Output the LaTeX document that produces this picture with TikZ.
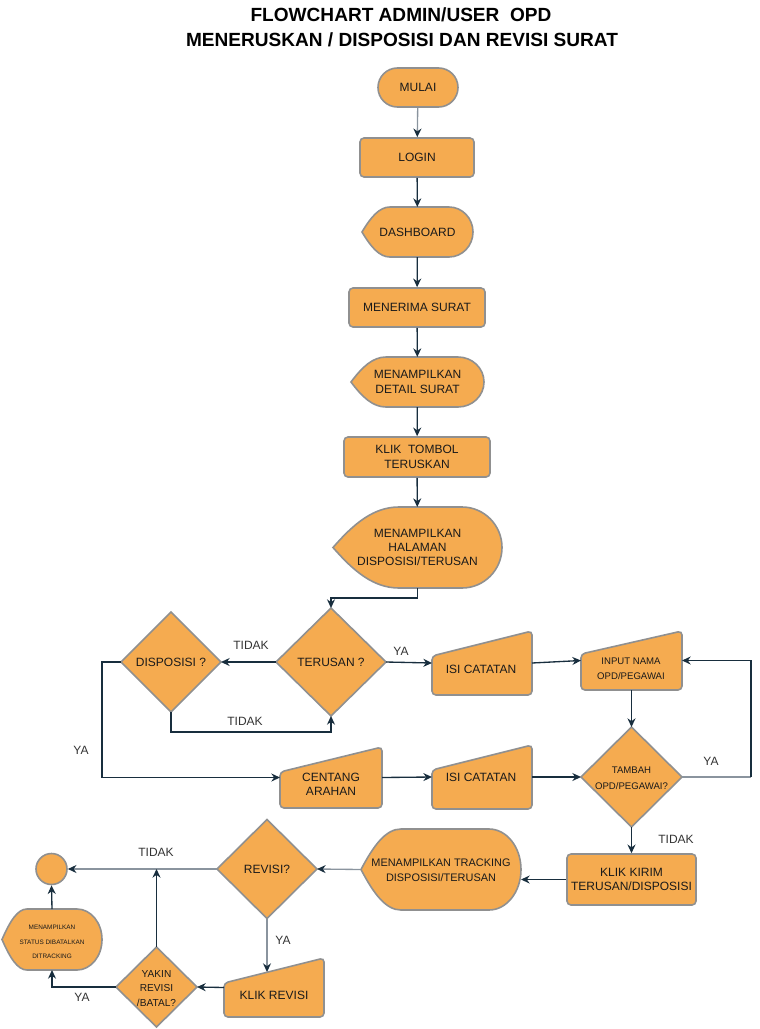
\documentclass[tikz,border=0pt]{standalone}
\usepackage{fontspec}
\setmainfont{Liberation Sans}
\usetikzlibrary{arrows.meta,calc}
\definecolor{orng}{HTML}{F5AB50}
\definecolor{strk}{HTML}{909090}
\definecolor{edgec}{HTML}{182E3E}
\definecolor{edgeg}{HTML}{8A949E}
\definecolor{txtc}{HTML}{1A1A1A}
\definecolor{lblc}{HTML}{333333}
\newcommand\ffnorm{\fontsize{9}{10.8}\selectfont}
\newcommand\ffsmall{\fontsize{7.2}{11.3}\selectfont}
\newcommand\fftamb{\fontsize{7.2}{12}\selectfont}
\newcommand\fftrack{\fontsize{8.2}{11}\selectfont}
\newcommand\ffyakin{\fontsize{7.6}{10.9}\selectfont}
\newcommand\fftiny{\fontsize{4.8}{10.9}\selectfont}
\newcommand\dispshape[6]{%
 \pgfmathsetmacro\dYm{(#2+#4)/2}%
 \pgfmathsetmacro\dH{#4-#2}%
 \pgfmathsetmacro\dXa{#1+#5}%
 \pgfmathsetmacro\dXr{#3-#6}%
 \pgfmathsetmacro\dCa{#1+0.32*#5}%
 \pgfmathsetmacro\dCb{#1+0.62*#5}%
 \pgfmathsetmacro\dDy{0.2*\dH}%
 \pgfmathsetmacro\dKa{\dXr+0.5523*#6}%
 \pgfmathsetmacro\dKb{0.5523*\dH/2}%
 \draw[box] (#1,\dYm) .. controls (\dCa,{#2+\dDy}) and (\dCb,#2) .. (\dXa,#2) -- (\dXr,#2) .. controls (\dKa,#2) and (#3,{\dYm-\dKb}) .. (#3,\dYm) .. controls (#3,{\dYm+\dKb}) and (\dKa,#4) .. (\dXr,#4) -- (\dXa,#4) .. controls (\dCb,#4) and (\dCa,{#4-\dDy}) .. cycle;
}
\newcommand\manshape[5]{\draw[box, rounded corners=3pt] (#1,{#2+#5}) -- (#3,#2) -- (#3,#4) -- (#1,#4) -- cycle;}
\newcommand\diashape[4]{\draw[box] ({#1-#3/2},#2) -- (#1,{#2-#4/2}) -- ({#1+#3/2},#2) -- (#1,{#2+#4/2}) -- cycle;}
\tikzset{
 box/.style={fill=orng, draw=strk, line width=1.2pt},
 sz/.style 2 args={minimum width=#1*0.75pt, minimum height=#2*0.75pt},
 rbox/.style={box, rounded corners=3pt, inner sep=0pt, align=center, font=\ffnorm, text=txtc},
 hit/.style={inner sep=0pt, outer sep=0pt, align=center, font=\ffnorm, text=txtc},
 txt/.style={inner sep=0pt, align=center, font=\ffnorm, text=txtc},
 lbl/.style={inner sep=0pt, font=\ffnorm, text=lblc},
 edge/.style={draw=edgec, line width=1pt, -{Stealth[length=6.5pt,width=6pt]}},
 gedge/.style={draw=edgeg, line width=1pt, -{Stealth[length=6.5pt,width=6pt,color=edgec]}},
}
\begin{document}
\begin{tikzpicture}[x=0.75pt,y=-0.75pt]
\useasboundingbox (0,0) rectangle (760,1029);
% title
\node[inner sep=0pt, font=\bfseries\fontsize{14.3}{17}\selectfont, text=black] (t1) at (401,15) {FLOWCHART ADMIN/USER\ \ OPD};
\node[inner sep=0pt, font=\bfseries\fontsize{14.3}{17}\selectfont, text=black] (t2) at (402,40) {MENERUSKAN / DISPOSISI DAN REVISI SURAT};
% main column
\node[rbox, rounded corners=14.6pt, sz={80}{39}] (mulai) at (418,87.5) {MULAI};
\node[rbox, sz={114}{39}] (login) at (417,157.5) {LOGIN};
\dispshape{362}{207}{473}{257}{28}{24}
\node[hit, sz={111}{50}] (dash) at (417.5,232) {DASHBOARD};
\node[rbox, sz={136}{39}] (terima) at (417,307.5) {MENERIMA SURAT};
\dispshape{351}{357}{484}{407}{35}{26}
\node[hit, sz={133}{50}] (detail) at (417.5,382) {MENAMPILKAN\\DETAIL SURAT};
\node[rbox, sz={146}{40}] (tombol) at (417,457) {KLIK\ \ TOMBOL\\TERUSKAN};
\dispshape{333}{507}{502}{588}{66}{40}
\node[hit, sz={169}{81}] (halaman) at (417.5,547.5) {MENAMPILKAN\\HALAMAN\\DISPOSISI/TERUSAN};
% decisions
\diashape{331}{662}{110}{108}
\node[hit, sz={110}{108}] (terusan) at (331,662) {TERUSAN ?};
\diashape{171}{662}{100}{100}
\node[hit, sz={100}{100}] (dispo) at (171,662) {DISPOSISI ?};
% upper right row
\manshape{432}{631}{532}{695}{25}
\node[hit, sz={100}{64}] (isi1) at (482,663) {};
\node[txt] (isi1t) at (481,669) {ISI CATATAN};
\manshape{581}{631}{682}{690}{23}
\node[hit, sz={101}{59}] (input) at (631.5,660.5) {};
\node[txt, font=\ffsmall] (inputt) at (631,668.5) {INPUT NAMA\\OPD/PEGAWAI};
\diashape{631.5}{777}{101}{100}
\node[hit, sz={101}{100}] (tambah) at (631.5,777) {};
\node[txt, font=\fftamb] (tambaht) at (631.5,778) {TAMBAH\\OPD/PEGAWAI?};
% lower row
\manshape{280}{747}{382}{808}{25}
\node[hit, sz={102}{61}] (centang) at (331,777.5) {};
\node[txt] (centangt) at (331,784.5) {CENTANG\\ARAHAN};
\manshape{432}{745}{532}{809}{25}
\node[hit, sz={100}{64}] (isi2) at (482,777) {};
\node[txt] (isi2t) at (481,777) {ISI CATATAN};
% bottom
\node[rbox, sz={129}{51}] (kirim) at (631.5,879.5) {KLIK KIRIM\\TERUSAN/DISPOSISI};
\dispshape{361}{829}{521}{910}{40}{32}
\node[hit, sz={160}{81}] (track) at (441,869.5) {};
\node[txt, font=\fftrack] (trackt) at (441,870.5) {MENAMPILKAN TRACKING\\DISPOSISI/TERUSAN};
\diashape{267}{869}{100}{99}
\node[hit, sz={100}{99}] (revisi) at (267,869) {REVISI?};
\manshape{224}{958}{324}{1017}{25}
\node[hit, sz={100}{59}] (klikrev) at (274,987.5) {};
\node[txt] (klikrevt) at (274,995) {KLIK REVISI};
\diashape{156.5}{987}{81}{80}
\node[hit, sz={81}{80}] (yakin) at (156.5,987) {};
\node[txt, font=\ffyakin] (yakint) at (156.5,988.5) {YAKIN\\REVISI\\/BATAL?};
\node[circle, box, minimum size=31*0.75pt, inner sep=0pt] (endc) at (51.5,869) {};
\dispshape{2}{909}{102}{970}{25}{25}
\node[hit, sz={100}{61}] (status) at (52,939.5) {};
\node[txt, font=\fftiny] (statust) at (52,942) {MENAMPILKAN\\STATUS DIBATALKAN\\DITRACKING};
% connectors
\draw[gedge] (mulai) -- (login);
\draw[edge] (login) -- (dash);
\draw[edge] (dash) -- (terima);
\draw[edge] (terima) -- (detail);
\draw[edge] (detail) -- (tombol);
\draw[edge] (tombol) -- (halaman);
\draw[edge] (halaman.south) -- ++(0,10) -| (terusan.north);
\draw[edge] (terusan.west) -- (dispo.east);
\draw[edge] (dispo.south) -- ++(0,20) -| (terusan.south);
\draw[edge] (terusan.east) -- (isi1.west);
\draw[edge] (isi1.east) -- (input.west);
\draw[edge] (input.south) -- (tambah.north);
\coordinate (loopc) at (751,777);
\draw[draw=edgeg, line width=1pt] (tambah.east) -- (loopc);
\draw[edge] (loopc) |- (input.east);
\draw[edge] (tambah.south) -- (kirim.north);
\draw[edge] (dispo.west) -- ++(-19,0) |- (centang.west);
\draw[edge] (centang.east) -- (isi2.west);
\draw[edge] (isi2.east) -- (tambah.west);
\draw[edge] (kirim.west) -- (kirim.west -| track.east);
\draw[gedge] (track.west) -- (revisi.east);
\draw[gedge] (revisi.west) -- (endc.east);
\coordinate (krtop) at (267,972);
\draw[gedge] (revisi.south) -- (krtop);
\draw[edge] (klikrev.west) -- (yakin.east);
\draw[edge] (yakin.north) -- (yakin.north |- revisi.west);
\draw[edge] (yakin.west) -| (status.south);
\draw[edge] (status.north) -- (endc.south);
% labels
\node[lbl] at (251,645) {TIDAK};
\node[lbl] at (245,721) {TIDAK};
\node[lbl] at (401,651) {YA};
\node[lbl] at (711,761) {YA};
\node[lbl] at (676,839) {TIDAK};
\node[lbl] at (81,750) {YA};
\node[lbl] at (156,852) {TIDAK};
\node[lbl] at (283,940) {YA};
\node[lbl] at (82,997) {YA};
\end{tikzpicture}
\end{document}
